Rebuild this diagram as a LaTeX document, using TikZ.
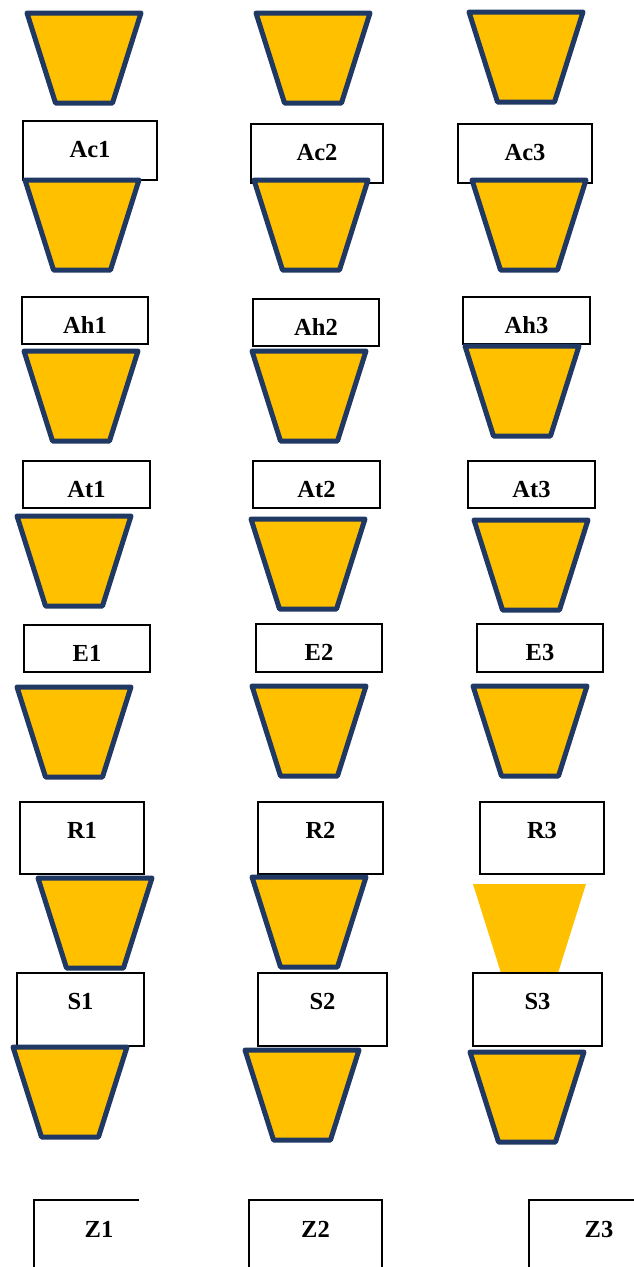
\documentclass[tikz,border=0pt]{standalone}
\usepackage{fontspec}
\setmainfont{Liberation Serif}
\definecolor{gold}{HTML}{FFC000}
\definecolor{navy}{HTML}{1F3864}
\newcommand\lblfont{\fontsize{24.5}{28}\selectfont\bfseries}
\tikzset{
  cup/.style={fill=gold, draw=navy, line width=5pt, line join=round},
  cupbare/.style={fill=gold},
  cell/.style={draw=black, line width=1.4pt, fill=white, inner xsep=0pt,
    inner ysep=0pt, text height=36pt, font=\lblfont, anchor=north west,
    outer sep=0pt},
  lbl/.style={font=\lblfont, anchor=base, inner sep=0pt},
  frame/.style={draw=black, line width=1.4pt}
}
% bucket: top-left corner x, y (y counted downwards)
\newcommand\drawbucket[2]{\draw[cup] (#1,#2) -- ++(114,0) -- ++(-28.5,90) -- ++(-57,0) -- cycle;}
% labelled box: name, x, y, width, height, text
\newcommand\labelbox[6]{\node[cell, minimum width=#4pt, text depth={#5pt-36pt}] (#1) at (#2,#3) {#6};}
\begin{document}
\begin{tikzpicture}[x=1pt, y=-1pt]
\useasboundingbox (0,0) rectangle (633,1267);

% top row of buckets
\drawbucket{27}{13}
\drawbucket{256}{13}
\drawbucket{469}{12}

% Ac row
\labelbox{ac1}{23}{121}{134}{59}{Ac1}
\labelbox{ac2}{251}{124}{132}{59}{Ac2}
\labelbox{ac3}{458}{124}{134}{59}{Ac3}
\drawbucket{25}{180}
\drawbucket{254}{180}
\drawbucket{472}{180}

% Ah row
\labelbox{ah1}{22}{297}{126}{47}{Ah1}
\labelbox{ah2}{253}{299}{126}{47}{Ah2}
\labelbox{ah3}{463}{297}{127}{47}{Ah3}
\drawbucket{24}{351}
\drawbucket{252}{351}
\drawbucket{465}{346}

% At row
\labelbox{at1}{23}{461}{127}{47}{At1}
\labelbox{at2}{253}{461}{127}{47}{At2}
\labelbox{at3}{468}{461}{127}{47}{At3}
\drawbucket{17}{516}
\drawbucket{251}{519}
\drawbucket{474}{520}

% E row
\labelbox{e1}{24}{625}{126}{47}{E1}
\labelbox{e2}{256}{624}{126}{48}{E2}
\labelbox{e3}{477}{624}{126}{48}{E3}
\drawbucket{17}{687}
\drawbucket{252}{686}
\drawbucket{473}{686}

% R row
\labelbox{r1}{20}{802}{124}{72}{R1}
\labelbox{r2}{258}{802}{125}{72}{R2}
\labelbox{r3}{480}{802}{124}{72}{R3}
\drawbucket{38}{878}
\drawbucket{252}{877}
\fill[cupbare] (473,884) -- (586,884) -- (558,973) -- (501,973) -- cycle;

% S row
\labelbox{s1}{17}{973}{127}{73}{S1}
\labelbox{s2}{258}{973}{129}{73}{S2}
\labelbox{s3}{473}{973}{129}{73}{S3}
\drawbucket{13}{1047}
\drawbucket{245}{1050}
\drawbucket{470}{1052}

% Z row (open frames running off the bottom edge)
\draw[frame] (34,1268) -- (34,1200) -- (139,1200);
\draw[frame] (249,1268) -- (249,1200) -- (382,1200) -- (382,1268);
\draw[frame] (529,1268) -- (529,1200) -- (634,1200);
\node[lbl] (z1) at (99,1237) {Z1};
\node[lbl] (z2) at (315.5,1237) {Z2};
\node[lbl] (z3) at (599,1237) {Z3};
\end{tikzpicture}
\end{document}
